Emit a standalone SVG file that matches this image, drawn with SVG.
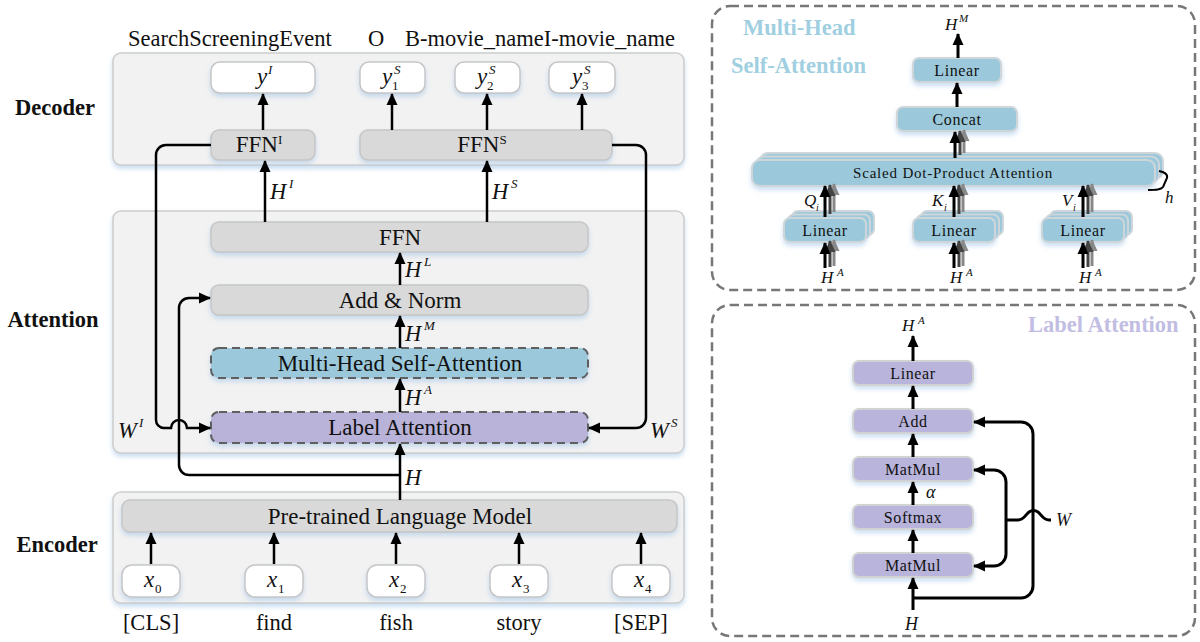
<svg xmlns="http://www.w3.org/2000/svg" width="1200" height="642" viewBox="0 0 1200 642">
<defs>
<style>
text{font-family:"Liberation Serif","Times New Roman",serif;fill:#111}
.t22{font-size:22.5px}
.bx{font-size:23px}
.t16{font-size:16px;letter-spacing:0.6px}
.t15{font-size:15px;letter-spacing:0.8px}
.b{font-weight:bold}
.it{font-style:italic}
.sup{font-size:13px}
.panel{fill:#f2f2f2;stroke:#cdcdcd;stroke-width:1.5}
.gray{fill:#d9d9d9;stroke:#c6c6c6;stroke-width:1.5}
.white{fill:#ffffff;stroke:#c6c6c6;stroke-width:1.5}
.blue{fill:#9bc9db;stroke:#5f5f5f;stroke-width:2;stroke-dasharray:8 5}
.purple{fill:#b9b3da;stroke:#5f5f5f;stroke-width:2;stroke-dasharray:8 5}
.rblue{fill:#9bc9db;stroke:#cfd6da;stroke-width:2}
.rpur{fill:#b9b4db;stroke:#d2d2d2;stroke-width:2}
.dpanel{fill:#ffffff;stroke:#777;stroke-width:2.5;stroke-dasharray:9 5}
.ln{fill:none;stroke:#000;stroke-width:2.5}
.lnt{fill:none;stroke:#000;stroke-width:3}
.g1{fill:none;stroke:#444;stroke-width:3}
.g2{fill:none;stroke:#888;stroke-width:3}
</style>
<filter id="sh" x="-10%" y="-30%" width="120%" height="180%">
<feDropShadow dx="0" dy="3" stdDeviation="2.5" flood-color="#9fc3e6" flood-opacity="0.55"/>
</filter>
<marker id="ah" markerUnits="userSpaceOnUse" markerWidth="12" markerHeight="12" refX="11" refY="6" orient="auto">
<path d="M0,0.5 L12,6 L0,11.5 z" fill="#000"/>
</marker>
<marker id="ahg1" markerUnits="userSpaceOnUse" markerWidth="12" markerHeight="12" refX="11" refY="6" orient="auto">
<path d="M0,0.5 L12,6 L0,11.5 z" fill="#444"/>
</marker>
<marker id="ahg2" markerUnits="userSpaceOnUse" markerWidth="12" markerHeight="12" refX="11" refY="6" orient="auto">
<path d="M0,0.5 L12,6 L0,11.5 z" fill="#888"/>
</marker>
</defs>

<!-- top labels -->
<g id="top-labels">
<text class="t22" x="128" y="46">SearchScreeningEvent</text>
<text class="t22" x="376" y="46" text-anchor="middle">O</text>
<text class="t22" x="405" y="46">B-movie_nameI-movie_name</text>
</g>

<!-- side labels -->
<g id="side-labels">
<text class="t22 b" x="55" y="115" text-anchor="middle">Decoder</text>
<text class="t22 b" x="53" y="327" text-anchor="middle">Attention</text>
<text class="t22 b" x="57" y="552" text-anchor="middle">Encoder</text>
</g>

<!-- panels -->
<g id="decoder-panel"><rect class="panel" x="113" y="53" width="571" height="112" rx="8" filter="url(#sh)"/></g>
<g id="attention-panel"><rect class="panel" x="113" y="211" width="571" height="242" rx="8" filter="url(#sh)"/></g>
<g id="encoder-panel"><rect class="panel" x="113" y="492" width="571" height="111" rx="8" filter="url(#sh)"/></g>

<!-- decoder nodes -->
<g id="yI"><rect class="white" x="211" y="62" width="104" height="31" rx="9" filter="url(#sh)"/>
<text class="bx it" x="257" y="84">y</text><text class="sup it" x="268" y="74">I</text></g>
<g id="yS1"><rect class="white" x="360" y="62" width="65" height="31" rx="9" filter="url(#sh)"/>
<text class="bx it" x="382" y="84">y</text><text class="sup it" x="394" y="74">S</text><text class="sup" x="392" y="90">1</text></g>
<g id="yS2"><rect class="white" x="455" y="62" width="65" height="31" rx="9" filter="url(#sh)"/>
<text class="bx it" x="477" y="84">y</text><text class="sup it" x="489" y="74">S</text><text class="sup" x="487" y="90">2</text></g>
<g id="yS3"><rect class="white" x="549" y="62" width="66" height="31" rx="9" filter="url(#sh)"/>
<text class="bx it" x="572" y="84">y</text><text class="sup it" x="584" y="74">S</text><text class="sup" x="582" y="90">3</text></g>
<g id="FFNI"><rect class="gray" x="211" y="130" width="104" height="30" rx="8" filter="url(#sh)"/>
<text class="bx" x="259" y="152" text-anchor="middle">FFN<tspan class="sup" dy="-8">I</tspan></text></g>
<g id="FFNS"><rect class="gray" x="360" y="130" width="252" height="30" rx="8" filter="url(#sh)"/>
<text class="bx" x="482" y="152" text-anchor="middle">FFN<tspan class="sup" dy="-8">S</tspan></text></g>

<!-- attention nodes -->
<g id="FFN"><rect class="gray" x="211" y="222" width="377" height="30" rx="8" filter="url(#sh)"/>
<text class="bx" x="400" y="245" text-anchor="middle">FFN</text></g>
<g id="AddNorm"><rect class="gray" x="211" y="285" width="377" height="30" rx="8" filter="url(#sh)"/>
<text class="bx" x="400" y="308" text-anchor="middle">Add &amp; Norm</text></g>
<g id="MHSA"><rect class="blue" x="211" y="348" width="377" height="30" rx="8" filter="url(#sh)"/>
<text class="bx" x="400" y="371" text-anchor="middle">Multi-Head Self-Attention</text></g>
<g id="LabelAttention"><rect class="purple" x="211" y="412" width="377" height="31" rx="8" filter="url(#sh)"/>
<text class="bx" x="400" y="435" text-anchor="middle">Label Attention</text></g>

<!-- encoder nodes -->
<g id="PLM"><rect class="gray" x="122" y="500" width="555" height="32" rx="8" filter="url(#sh)"/>
<text class="bx" x="400" y="524" text-anchor="middle">Pre-trained Language Model</text></g>
<g id="x0"><rect class="white" x="122" y="565" width="58" height="32" rx="10" filter="url(#sh)"/>
<text class="bx it" x="144" y="587">x</text><text class="sup" x="155" y="593">0</text></g>
<g id="x1"><rect class="white" x="245" y="565" width="58" height="32" rx="10" filter="url(#sh)"/>
<text class="bx it" x="267" y="587">x</text><text class="sup" x="278" y="593">1</text></g>
<g id="x2"><rect class="white" x="367" y="565" width="58" height="32" rx="10" filter="url(#sh)"/>
<text class="bx it" x="389" y="587">x</text><text class="sup" x="400" y="593">2</text></g>
<g id="x3"><rect class="white" x="490" y="565" width="58" height="32" rx="10" filter="url(#sh)"/>
<text class="bx it" x="512" y="587">x</text><text class="sup" x="523" y="593">3</text></g>
<g id="x4"><rect class="white" x="612" y="565" width="58" height="32" rx="10" filter="url(#sh)"/>
<text class="bx it" x="634" y="587">x</text><text class="sup" x="645" y="593">4</text></g>

<g id="word-labels">
<text class="t22" x="151" y="630" text-anchor="middle">[CLS]</text>
<text class="t22" x="274" y="630" text-anchor="middle">find</text>
<text class="t22" x="396" y="630" text-anchor="middle">fish</text>
<text class="t22" x="519" y="630" text-anchor="middle">story</text>
<text class="t22" x="641" y="630" text-anchor="middle">[SEP]</text>
</g>

<!-- left connectors -->
<g id="connectors-left">
<path class="ln" d="M263,130 V94" marker-end="url(#ah)"/>
<path class="ln" d="M392,130 V94" marker-end="url(#ah)"/>
<path class="ln" d="M487,130 V94" marker-end="url(#ah)"/>
<path class="ln" d="M582,130 V94" marker-end="url(#ah)"/>
<path class="ln" d="M265,222 V161" marker-end="url(#ah)"/>
<path class="ln" d="M487,222 V161" marker-end="url(#ah)"/>
<path class="ln" d="M400,285 V253" marker-end="url(#ah)"/>
<path class="ln" d="M400,348 V316" marker-end="url(#ah)"/>
<path class="ln" d="M400,412 V379" marker-end="url(#ah)"/>
<path class="ln" d="M400,500 V444" marker-end="url(#ah)"/>
<path class="ln" d="M400,475 H189 A10,10 0 0 1 179,465 V308 A10,10 0 0 1 189,298 H210" marker-end="url(#ah)"/>
<path class="ln" d="M211,145 H166 A10,10 0 0 0 156,155 V420 A8,8 0 0 0 164,428 H171 A8,8 0 0 1 187,428 H210" marker-end="url(#ah)"/>
<path class="ln" d="M612,145 H636 A10,10 0 0 1 646,155 V418 A10,10 0 0 1 636,428 H589" marker-end="url(#ah)"/>
<path class="ln" d="M151,564 V533" marker-end="url(#ah)"/>
<path class="ln" d="M274,564 V533" marker-end="url(#ah)"/>
<path class="ln" d="M396,564 V533" marker-end="url(#ah)"/>
<path class="ln" d="M519,564 V533" marker-end="url(#ah)"/>
<path class="ln" d="M641,564 V533" marker-end="url(#ah)"/>
</g>

<g id="connector-labels-left">
<text class="t22 it" x="270" y="199">H</text><text class="sup it" x="289" y="188">I</text>
<text class="t22 it" x="492" y="199">H</text><text class="sup it" x="511" y="188">S</text>
<text class="t22 it" x="405" y="277">H</text><text class="sup it" x="424" y="266">L</text>
<text class="t22 it" x="405" y="341">H</text><text class="sup it" x="424" y="330">M</text>
<text class="t22 it" x="405" y="405">H</text><text class="sup it" x="424" y="394">A</text>
<text class="t22 it" x="405" y="485">H</text>
<text class="t22 it" x="118" y="438">W</text><text class="sup it" x="139" y="427">I</text>
<text class="t22 it" x="650" y="438">W</text><text class="sup it" x="671" y="427">S</text>
</g>

<!-- right top panel: multi-head self-attention -->
<g id="mhsa-panel">
<rect class="dpanel" x="712" y="6" width="483" height="284" rx="18"/>
<text class="t22 b" x="743" y="35" style="fill:#9fcfe0">Multi-Head</text>
<text class="t22 b" x="731" y="73" style="fill:#9fcfe0">Self-Attention</text>
</g>
<g id="mh-linear-out"><rect class="rblue" x="913" y="58" width="88" height="24" rx="6" filter="url(#sh)"/>
<text class="t16" x="957" y="76" text-anchor="middle">Linear</text></g>
<g id="mh-concat"><rect class="rblue" x="897" y="107" width="120" height="24" rx="6" filter="url(#sh)"/>
<text class="t16" x="957" y="125" text-anchor="middle">Concat</text></g>
<g id="mh-sdpa">
<rect class="rblue" x="760" y="153" width="403" height="26" rx="8"/>
<rect class="rblue" x="756" y="156.5" width="403" height="26" rx="8"/>
<rect class="rblue" x="752" y="160" width="403" height="26" rx="8" filter="url(#sh)"/>
<text class="t15" x="953" y="178" text-anchor="middle">Scaled Dot-Product Attention</text>
</g>
<g id="mh-linear-q">
<rect class="rblue" x="792" y="211" width="82" height="24" rx="6"/>
<rect class="rblue" x="788" y="214.5" width="82" height="24" rx="6"/>
<rect class="rblue" x="784" y="218" width="82" height="24" rx="6" filter="url(#sh)"/>
<text class="t16" x="825" y="236" text-anchor="middle">Linear</text>
</g>
<g id="mh-linear-k">
<rect class="rblue" x="921" y="211" width="82" height="24" rx="6"/>
<rect class="rblue" x="917" y="214.5" width="82" height="24" rx="6"/>
<rect class="rblue" x="913" y="218" width="82" height="24" rx="6" filter="url(#sh)"/>
<text class="t16" x="954" y="236" text-anchor="middle">Linear</text>
</g>
<g id="mh-linear-v">
<rect class="rblue" x="1050" y="211" width="82" height="24" rx="6"/>
<rect class="rblue" x="1046" y="214.5" width="82" height="24" rx="6"/>
<rect class="rblue" x="1042" y="218" width="82" height="24" rx="6" filter="url(#sh)"/>
<text class="t16" x="1083" y="236" text-anchor="middle">Linear</text>
</g>

<g id="connectors-mhsa">
<path class="lnt" d="M958,58 V34" marker-end="url(#ah)"/>
<path class="lnt" d="M957,107 V83" marker-end="url(#ah)"/>
<path class="g2" d="M964,153 V130" marker-end="url(#ahg2)"/>
<path class="g1" d="M960,155 V131" marker-end="url(#ahg1)"/>
<path class="lnt" d="M955,158 V132" marker-end="url(#ah)"/>
<!-- Q -->
<path class="g2" d="M834,212 V184" marker-end="url(#ahg2)"/>
<path class="g1" d="M830,214 V185" marker-end="url(#ahg1)"/>
<path class="lnt" d="M825,217 V186" marker-end="url(#ah)"/>
<path class="g2" d="M834,266 V240" marker-end="url(#ahg2)"/>
<path class="g1" d="M830,267 V241" marker-end="url(#ahg1)"/>
<path class="lnt" d="M825,268 V243" marker-end="url(#ah)"/>
<!-- K -->
<path class="g2" d="M963,212 V184" marker-end="url(#ahg2)"/>
<path class="g1" d="M959,214 V185" marker-end="url(#ahg1)"/>
<path class="lnt" d="M954,217 V186" marker-end="url(#ah)"/>
<path class="g2" d="M963,266 V240" marker-end="url(#ahg2)"/>
<path class="g1" d="M959,267 V241" marker-end="url(#ahg1)"/>
<path class="lnt" d="M954,268 V243" marker-end="url(#ah)"/>
<!-- V -->
<path class="g2" d="M1092,212 V184" marker-end="url(#ahg2)"/>
<path class="g1" d="M1088,214 V185" marker-end="url(#ahg1)"/>
<path class="lnt" d="M1083,217 V186" marker-end="url(#ah)"/>
<path class="g2" d="M1092,266 V240" marker-end="url(#ahg2)"/>
<path class="g1" d="M1088,267 V241" marker-end="url(#ahg1)"/>
<path class="lnt" d="M1083,268 V243" marker-end="url(#ah)"/>
<!-- brace -->
<path fill="none" stroke="#000" stroke-width="2" d="M1159,171 C1164,172 1168,174 1167,178 L1163,187 C1161,190 1156,190 1148,190"/>
</g>
<g id="mhsa-labels">
<text class="it" style="font-size:17px" x="945" y="30">H</text><text class="it" style="font-size:11px" x="959" y="22">M</text>
<text class="it" style="font-size:17px" x="804" y="206">Q</text><text class="it" style="font-size:10px" x="816" y="211">i</text>
<text class="it" style="font-size:17px" x="932" y="206">K</text><text class="it" style="font-size:10px" x="944" y="211">i</text>
<text class="it" style="font-size:17px" x="1062" y="206">V</text><text class="it" style="font-size:10px" x="1073" y="211">i</text>
<text class="it" style="font-size:17px" x="1165" y="203">h</text>
<text class="it" style="font-size:17px" x="821" y="283">H</text><text class="it" style="font-size:11px" x="837" y="276">A</text>
<text class="it" style="font-size:17px" x="950" y="283">H</text><text class="it" style="font-size:11px" x="966" y="276">A</text>
<text class="it" style="font-size:17px" x="1079" y="283">H</text><text class="it" style="font-size:11px" x="1095" y="276">A</text>
</g>

<!-- right bottom panel: label attention -->
<g id="la-panel">
<rect class="dpanel" x="712" y="305" width="483" height="331" rx="18"/>
<text class="t22 b" x="1028" y="332" style="fill:#c2bde2">Label Attention</text>
</g>
<g id="la-linear"><rect class="rpur" x="853" y="361" width="120" height="24" rx="6" filter="url(#sh)"/>
<text class="t16" x="913" y="379" text-anchor="middle">Linear</text></g>
<g id="la-add"><rect class="rpur" x="853" y="409" width="120" height="24" rx="6" filter="url(#sh)"/>
<text class="t16" x="913" y="427" text-anchor="middle">Add</text></g>
<g id="la-matmul2"><rect class="rpur" x="853" y="457" width="120" height="24" rx="6" filter="url(#sh)"/>
<text class="t16" x="913" y="475" text-anchor="middle">MatMul</text></g>
<g id="la-softmax"><rect class="rpur" x="853" y="505" width="120" height="24" rx="6" filter="url(#sh)"/>
<text class="t16" x="913" y="523" text-anchor="middle">Softmax</text></g>
<g id="la-matmul1"><rect class="rpur" x="853" y="553" width="120" height="24" rx="6" filter="url(#sh)"/>
<text class="t16" x="913" y="571" text-anchor="middle">MatMul</text></g>

<g id="connectors-la">
<path class="lnt" d="M913,361 V336" marker-end="url(#ah)"/>
<path class="lnt" d="M913,409 V386" marker-end="url(#ah)"/>
<path class="lnt" d="M913,457 V434" marker-end="url(#ah)"/>
<path class="lnt" d="M913,505 V482" marker-end="url(#ah)"/>
<path class="lnt" d="M913,553 V530" marker-end="url(#ah)"/>
<path class="lnt" d="M913,610 V578" marker-end="url(#ah)"/>
<path class="lnt" d="M913,598 H1021 A12,12 0 0 0 1033,586 V434 A12,12 0 0 0 1021,422 H974" marker-end="url(#ah)"/>
<path class="lnt" d="M1006,520 V482 A12,12 0 0 0 994,470 H974" marker-end="url(#ah)"/>
<path class="lnt" d="M1006,520 V554 A12,12 0 0 1 994,566 H974" marker-end="url(#ah)"/>
<path class="lnt" d="M1006,520 H1018 C1024,520 1026,514 1029,512 C1032,510 1035,510 1038,512 C1041,514 1043,520 1049,520 H1051"/>
</g>
<g id="la-labels">
<text class="it" style="font-size:17px" x="902" y="331">H</text><text class="it" style="font-size:11px" x="918" y="324">A</text>
<text class="it" style="font-size:18px" x="926" y="498">α</text>
<text class="it" style="font-size:18px" x="1056" y="526">W</text>
<text class="it" style="font-size:18px" x="905" y="630">H</text>
</g>
</svg>
